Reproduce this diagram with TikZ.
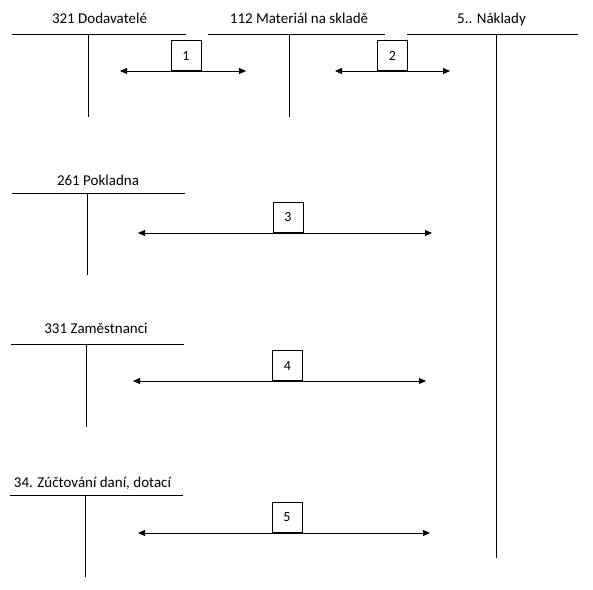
\documentclass[tikz,border=0pt]{standalone}
\usepackage{fontspec}
\setmainfont{Carlito}
\usetikzlibrary{arrows.meta}
\begin{document}
\begin{tikzpicture}[x=1pt,y=-1pt, line width=1pt,
  title/.style={font=\fontsize{15}{18}\selectfont, inner sep=0pt, anchor=base},
  numbox/.style={draw, minimum width=30pt, minimum height=30pt, inner sep=0pt, anchor=south, font=\fontsize{14}{16}\selectfont},
  flow/.style={{Triangle[length=7pt,width=6pt]}-{Triangle[length=7pt,width=6pt]}}]
\useasboundingbox (0,0) rectangle (593,589);
% account titles
\node[title] (t1) at (99.5,23) {321 Dodavatelé};
\node[title] (t2) at (299,23) {112 Materiál na skladě};
\node[title] (t3) at (491.5,23) {5.. Náklady};
\node[title] (t4) at (98,185) {261 Pokladna};
\node[title] (t5) at (96,333) {331 Zaměstnanci};
\node[title] (t6) at (92.5,487) {34. Zúčtování daní, dotací};
% T-accounts
\draw (12,34) -- (186,34);  \draw (88,34) -- (88,117);
\draw (208,34) -- (385,34); \draw (289,34) -- (289,117);
\draw (407,34) -- (578,34); \draw (496,34) -- (496,558);
\draw (12,193) -- (185,193); \draw (87,193) -- (87,275);
\draw (11,344) -- (184,344); \draw (86,344) -- (86,427);
\draw (10,495) -- (183,495); \draw (85,495) -- (85,577);
% numbered boxes
\node[numbox] (b1) at (186,71) {1};
\node[numbox] (b2) at (392.5,71) {2};
\node[numbox] (b3) at (288,233) {3};
\node[numbox] (b4) at (287.5,381) {4};
\node[numbox] (b5) at (287,533) {5};
% arrows
\coordinate (a1l) at (120,71);  \coordinate (a1r) at (246,71);
\coordinate (a2l) at (335,71);  \coordinate (a2r) at (450,71);
\coordinate (a3l) at (138,233); \coordinate (a3r) at (432,233);
\coordinate (a4l) at (133,381); \coordinate (a4r) at (426,381);
\coordinate (a5l) at (138,533); \coordinate (a5r) at (430,533);
\draw[flow] (a1l) -- (a1r);
\draw[flow] (a2l) -- (a2r);
\draw[flow] (a3l) -- (a3r);
\draw[flow] (a4l) -- (a4r);
\draw[flow] (a5l) -- (a5r);
\end{tikzpicture}
\end{document}
